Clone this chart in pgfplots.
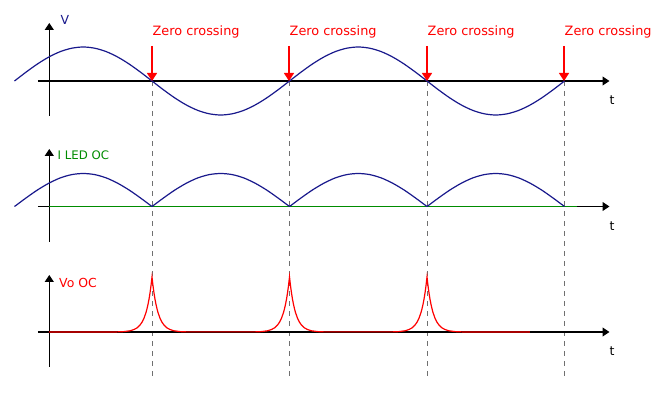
\documentclass[border=0pt]{standalone}
\usepackage{fontspec}
\setmainfont{DejaVu Sans}
\usepackage{pgfplots}
\pgfplotsset{compat=1.18}
\usetikzlibrary{arrows.meta}
\definecolor{curveblue}{RGB}{25,25,140}
\definecolor{ledgreen}{RGB}{0,140,0}
\definecolor{dashgray}{RGB}{112,112,112}
\begin{document}
\begin{tikzpicture}
\begin{axis}[width=665bp, height=393bp, scale only axis,
  xmin=-0.10545, xmax=4.7309, ymin=0, ymax=393,
  hide axis, clip=false]
\path (rel axis cs:0,0) rectangle (rel axis cs:1,1);
% dashed guide lines at the zero crossings
\foreach \c in {1,1.9964,3,3.9964}{
  \edef\tmp{\noexpand\draw[dashgray, line width=1bp, dash pattern=on 5bp off 5bp] (axis cs:\c,312) -- (axis cs:\c,16.3);}
  \tmp
}
% axes
\draw[line width=1.1bp, -{Triangle[width=9bp,length=7bp]}] (axis cs:0.2531,277) -- (axis cs:0.2531,370);
\draw[line width=1.1bp, -{Triangle[width=9bp,length=7bp]}] (axis cs:0.1709,312) -- (axis cs:4.3273,312);
\draw[line width=1.1bp, -{Triangle[width=9bp,length=7bp]}] (axis cs:0.2531,151.3) -- (axis cs:0.2531,244);
\draw[line width=1.1bp, -{Triangle[width=9bp,length=7bp]}] (axis cs:0.1709,186.5) -- (axis cs:4.3273,186.5);
\draw[line width=1.1bp, -{Triangle[width=9bp,length=7bp]}] (axis cs:0.2531,26) -- (axis cs:0.2531,118);
\draw[line width=1.1bp, -{Triangle[width=9bp,length=7bp]}] (axis cs:0.1709,61) -- (axis cs:4.3273,61);

% V : sine
\addplot[curveblue, line width=1.2bp, smooth] coordinates {
(0,312) (0.0833,320.8) (0.1667,329.0) (0.25,336.0) (0.3333,341.4) (0.4167,344.8) (0.5,346.0) (0.5833,344.8) (0.6667,341.4) (0.75,336.0) (0.8333,329.0) (0.9167,320.8)
(1,312) (1.0833,303.2) (1.1667,295.0) (1.25,288.0) (1.3333,282.6) (1.4167,279.2) (1.5,278.0) (1.5833,279.2) (1.6667,282.6) (1.75,288.0) (1.8333,295.0) (1.9167,303.2)
(2,312) (2.0833,320.8) (2.1667,329.0) (2.25,336.0) (2.3333,341.4) (2.4167,344.8) (2.5,346.0) (2.5833,344.8) (2.6667,341.4) (2.75,336.0) (2.8333,329.0) (2.9167,320.8)
(3,312) (3.0833,303.2) (3.1667,295.0) (3.25,288.0) (3.3333,282.6) (3.4167,279.2) (3.5,278.0) (3.5833,279.2) (3.6667,282.6) (3.75,288.0) (3.8333,295.0) (3.9167,303.2)
(4,312)};

% I LED OC
\addplot[ledgreen, line width=1.3bp] coordinates {(0.2509,186.5) (4.0909,186.5)};
\addplot[curveblue, line width=1.2bp, smooth] coordinates {
(0,186.5) (0.0833,195.0) (0.1667,203.0) (0.25,209.8) (0.3333,215.1) (0.4167,218.4) (0.5,219.5) (0.5833,218.4) (0.6667,215.1) (0.75,209.8) (0.8333,203.0) (0.9167,195.0) (1,186.5)};
\addplot[curveblue, line width=1.2bp, smooth] coordinates {
(1,186.5) (1.0833,195.0) (1.1667,203.0) (1.25,209.8) (1.3333,215.1) (1.4167,218.4) (1.5,219.5) (1.5833,218.4) (1.6667,215.1) (1.75,209.8) (1.8333,203.0) (1.9167,195.0) (2,186.5)};
\addplot[curveblue, line width=1.2bp, smooth] coordinates {
(2,186.5) (2.0833,195.0) (2.1667,203.0) (2.25,209.8) (2.3333,215.1) (2.4167,218.4) (2.5,219.5) (2.5833,218.4) (2.6667,215.1) (2.75,209.8) (2.8333,203.0) (2.9167,195.0) (3,186.5)};
\addplot[curveblue, line width=1.2bp, smooth] coordinates {
(3,186.5) (3.0833,195.0) (3.1667,203.0) (3.25,209.8) (3.3333,215.1) (3.4167,218.4) (3.5,219.5) (3.5833,218.4) (3.6667,215.1) (3.75,209.8) (3.8333,203.0) (3.9167,195.0) (4,186.5)};

% Vo OC spikes
\addplot[red, line width=1.2bp] coordinates {
(0.2509,61)
(0.7455,61.1) (0.7964,61.4) (0.84,62.2) (0.8691,63.5) (0.8909,65.1) (0.9127,67.9) (0.9273,70.8) (0.9418,74.8) (0.9564,80.5) (0.9636,84.2) (0.9709,88.6) (0.9782,93.8) (0.9855,100.0) (0.9927,107.3)
(1,116)
(1.0073,107.3) (1.0145,100.0) (1.0218,93.8) (1.0291,88.6) (1.0364,84.2) (1.0436,80.5) (1.0582,74.8) (1.0727,70.8) (1.0873,67.9) (1.1091,65.1) (1.1309,63.5) (1.16,62.2) (1.2036,61.4) (1.2545,61.1)
(1.7455,61.1) (1.7964,61.4) (1.84,62.2) (1.8691,63.5) (1.8909,65.1) (1.9127,67.9) (1.9273,70.8) (1.9418,74.8) (1.9564,80.5) (1.9636,84.2) (1.9709,88.6) (1.9782,93.8) (1.9855,100.0) (1.9927,107.3)
(2,116)
(2.0073,107.3) (2.0145,100.0) (2.0218,93.8) (2.0291,88.6) (2.0364,84.2) (2.0436,80.5) (2.0582,74.8) (2.0727,70.8) (2.0873,67.9) (2.1091,65.1) (2.1309,63.5) (2.16,62.2) (2.2036,61.4) (2.2545,61.1)
(2.7455,61.1) (2.7964,61.4) (2.84,62.2) (2.8691,63.5) (2.8909,65.1) (2.9127,67.9) (2.9273,70.8) (2.9418,74.8) (2.9564,80.5) (2.9636,84.2) (2.9709,88.6) (2.9782,93.8) (2.9855,100.0) (2.9927,107.3)
(3,116)
(3.0073,107.3) (3.0145,100.0) (3.0218,93.8) (3.0291,88.6) (3.0364,84.2) (3.0436,80.5) (3.0582,74.8) (3.0727,70.8) (3.0873,67.9) (3.1091,65.1) (3.1309,63.5) (3.16,62.2) (3.2036,61.4) (3.2545,61.1)
(3.749,61)};

% zero crossing arrows and labels
\foreach \c/\l in {1/1.0036,1.9964/2.0,3/3.0036,3.9964/4.0}{
  \edef\tmp{\noexpand\draw[red, line width=1.2bp, -{Triangle[width=10bp,length=8bp]}] (axis cs:\c,347) -- (axis cs:\c,312);
  \noexpand\node[red, anchor=base west, inner sep=0pt, font=\noexpand\fontsize{12.9}{15}\noexpand\selectfont] at (axis cs:\l,357.7) {Zero crossing};}
  \tmp
}

% labels
\node[curveblue, anchor=center, inner sep=0pt, font=\fontsize{12.5}{15}\selectfont] at (axis cs:0.3673,373.5) {V};
\node[ledgreen, anchor=base west, inner sep=0pt, font=\fontsize{11.8}{15}\selectfont] at (axis cs:0.313,234) {I LED OC};
\node[red, anchor=base west, inner sep=0pt, font=\fontsize{12.5}{15}\selectfont] at (axis cs:0.3236,106) {Vo OC};
\node[anchor=base, inner sep=0pt, font=\fontsize{12.5}{15}\selectfont] at (axis cs:4.3455,289) {t};
\node[anchor=base, inner sep=0pt, font=\fontsize{12.5}{15}\selectfont] at (axis cs:4.3455,163) {t};
\node[anchor=base, inner sep=0pt, font=\fontsize{12.5}{15}\selectfont] at (axis cs:4.3455,38) {t};
\end{axis}
\end{tikzpicture}
\end{document}
